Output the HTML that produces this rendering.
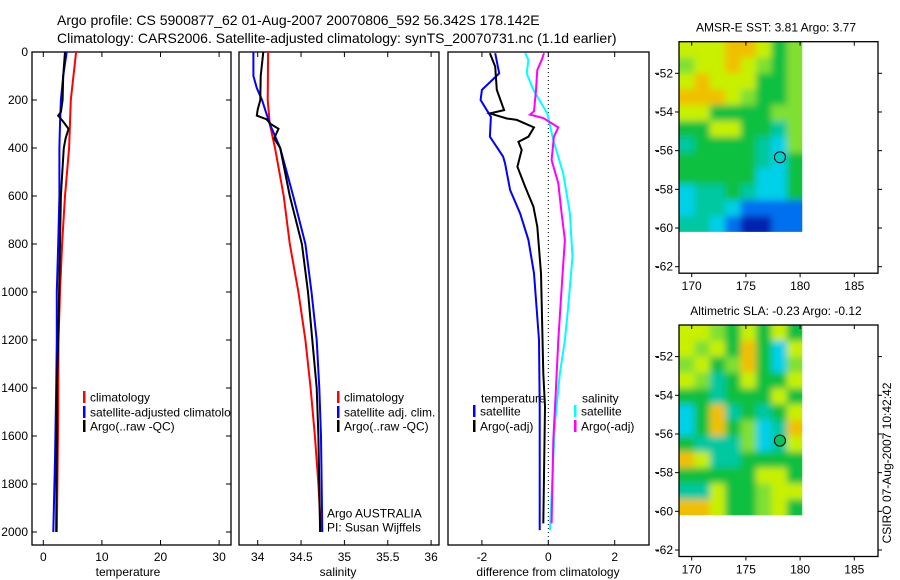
<!DOCTYPE html>
<html><head><meta charset="utf-8"><style>
body{margin:0;background:#fff;}
svg{display:block;font-family:"Liberation Sans",sans-serif;}
</style></head><body>
<svg id="fig" width="900" height="580" viewBox="0 0 900 580" xmlns="http://www.w3.org/2000/svg">
<defs>
<clipPath id="clipP1"><rect x="32" y="52" width="199" height="493"/></clipPath>
<filter id="blur" x="-5%" y="-5%" width="110%" height="110%"><feGaussianBlur stdDeviation="3.5"/></filter>
</defs>
<g id="titles">
<text x="57" y="25" font-size="14">Argo profile: CS 5900877_62 01-Aug-2007 20070806_592 56.342S 178.142E</text>
<text x="57" y="43" font-size="14">Climatology: CARS2006. Satellite-adjusted climatology: synTS_20070731.nc (1.1d earlier)</text>
</g>
</svg>
<script>
// ---- data ----
const depthTicks=[0,200,400,600,800,1000,1200,1400,1600,1800,2000];
const tempTicks=[0,10,20,30];
const salTicks=[34,34.5,35,35.5,36];
const diffTicks=[-2,0,2];
const tempClimDepth=[0,200,400,600,800,1000,1200,1500,1800,2000];
const tempClim=[5.6,4.7,4.4,3.7,3.2,2.85,2.6,2.55,2.4,2.3];
const tempSatDepth=[0,100,200,300,400,600,800,1000,1200,1400,1700,2000];
const tempSat=[4.0,3.4,3.0,2.85,2.75,2.75,2.55,2.3,2.3,2.2,2.0,1.7];
const tempArgoDepth=[0,100,200,250,265,290,320,360,400,500,600,800,1000,1200,1400,1600,2000];
const tempArgo=[3.7,3.4,3.3,3.0,2.55,3.4,4.3,3.8,3.5,3.25,3.0,2.85,2.7,2.55,2.3,2.3,2.2];
const salClimDepth=[0,200,300,400,600,800,1000,1200,1400,1600,1800,2000];
const salClim=[34.12,34.115,34.14,34.2,34.3,34.37,34.47,34.55,34.61,34.66,34.70,34.73];
const salSatDepth=[0,100,150,200,300,400,600,800,1000,1200,1400,1600,2000];
const salSat=[33.95,33.95,33.99,34.05,34.14,34.26,34.41,34.55,34.62,34.68,34.71,34.73,34.745];
const salArgoDepth=[0,100,200,240,265,280,300,320,360,400,600,800,1000,1200,1400,1600,2000];
const salArgo=[34.065,34.035,34.03,34.0,33.99,34.10,34.15,34.24,34.19,34.26,34.37,34.51,34.58,34.63,34.68,34.70,34.72];
const dTSatDepth=[5,89,158,200,270,353,436,465,575,672,783,922,1200,1478,1992];
const dTSat=[-1.6,-1.48,-2.0,-2.04,-1.73,-1.76,-1.36,-1.3,-1.15,-0.85,-0.6,-0.43,-0.28,-0.26,-0.26];
const dTArgoDepth=[5,61,158,242,256,277,283,314,353,374,408,478,561,644,728,922,1339,1478,1964];
const dTArgo=[-1.76,-1.6,-1.55,-1.33,-1.76,-1.25,-0.95,-0.43,-0.6,-0.9,-0.8,-0.93,-0.7,-0.45,-0.33,-0.22,-0.15,-0.1,-0.15];
const dSSatDepth=[5,33,89,158,256,367,506,672,853,1061,1200,1339,1547,1756,1992];
const dSSat=[-0.7,-0.6,-0.65,-0.45,-0.03,0.15,0.45,0.65,0.73,0.6,0.5,0.35,0.2,0.13,0.05];
const dSArgoDepth=[5,33,75,158,247,261,275,314,353,450,547,672,783,922,1200,1408,1617,1964];
const dSArgo=[-0.13,-0.2,-0.33,-0.37,-0.43,-0.55,-0.15,0.3,0.17,0.1,0.3,0.4,0.5,0.43,0.3,0.23,0.15,0.1];
const lonTicks=[170,175,180,185];
const latTicks=[-52,-54,-56,-58,-60,-62];
const sstGrid=["YYYOOYGL","LYYOYLGL","YOYYYGGL","OOOYLGGL","YYGGGGLL","GGYYGGTL","TGGGGTCL","GGGGGTCG","GGGGGCCG","CTTGTCCG","CTTCBBBB","TTCBDDBB"];
const slaGrid=["YYLGYGYG","YLYGOGCY","LYGLOGCL","YLTGYGGY","GGTGGGYG","CGOTGTGY","CGOGLCTO","GTTTLCTY","OYTTGGGG","GGGGGYYG","TTYGGLYY","OOYGGLYG"];
const argoLon=178.142, argoLat=-56.342;
// ---- drawing ----
const NS="http://www.w3.org/2000/svg";
const svg=document.getElementById('fig');
function el(t,a,p){const e=document.createElementNS(NS,t);for(const k in a)e.setAttribute(k,a[k]);(p||svg).appendChild(e);return e;}
const y0=52, ky=0.24;
const yD=d=>y0+d*ky;
function panel(name,x1,x2,xs,ticks,fmt,leftTicks,xlabel,lx){
  const g=el('g',{});
  
  
  const r=el('rect',{x:x1,y:52,width:x2-x1,height:493,fill:'none',stroke:'#000','stroke-width':1.3},g);
  
  
  ticks.forEach(v=>{const x=xs(v);
    el('line',{x1:x,x2:x,y1:52,y2:57,stroke:'#000'},g);el('line',{x1:x,x2:x,y1:545,y2:540,stroke:'#000'},g);
    const t=el('text',{x:x,y:561,'font-size':12,'text-anchor':'middle'},g);t.textContent=fmt(v);
    
    });
  if(leftTicks){depthTicks.forEach(d=>{const y=yD(d);
    el('line',{x1:x1,x2:x1+5,y1:y,y2:y,stroke:'#000'},g);el('line',{x1:x2,x2:x2-5,y1:y,y2:y,stroke:'#000'},g);
    const t=el('text',{x:28,y:y+4,'font-size':12,'text-anchor':'end'},g);t.textContent=d;
    
    });}
  const xl=el('text',{x:lx,y:576,'font-size':12,'text-anchor':'middle'},g);xl.textContent=xlabel;
  
  
  return g;
}
function line(g,xs,vals,depths,color,name){
  const pts=vals.map((v,i)=>xs(v).toFixed(1)+','+yD(depths[i]).toFixed(1)).join(' ');
  const p=el('polyline',{points:pts,fill:'none',stroke:color,'stroke-width':2},g);
  
  
}
function legend(g,x,y,color,label,name){
  if(color){el('rect',{x:x,y:y-6,width:2.5,height:12,fill:color},g);}
  const t=el('text',{x:x+7,y:y+4.5,'font-size':12},g);t.textContent=label;
  
  
}
// panel 1
const xT=v=>43.3+v*5.86;
const g1=panel('temperature-panel',32,231,xT,tempTicks,v=>v,true,'temperature',128);
const g1c=el('g',{'clip-path':'url(#clipP1)'},g1);
line(g1c,xT,tempClim,tempClimDepth,'#f00','temp-climatology-line');
line(g1c,xT,tempSat,tempSatDepth,'#00f','temp-satellite-line');
line(g1c,xT,tempArgo,tempArgoDepth,'#000','temp-argo-line');
legend(g1c,83,397,'#f00','climatology','legend-climatology');
legend(g1c,83,412,'#00f','satellite-adjusted climatology','legend-satellite-adjusted');
legend(g1c,83,426,'#000','Argo(..raw -QC)','legend-argo');
// panel 2
const xS=v=>257.7+(v-34)*86.7;
const g2=panel('salinity-panel',239,439,xS,salTicks,v=>v,false,'salinity',338);
line(g2,xS,salClim,salClimDepth,'#f00','sal-climatology-line');
line(g2,xS,salSat,salSatDepth,'#00f','sal-satellite-line');
line(g2,xS,salArgo,salArgoDepth,'#000','sal-argo-line');
legend(g2,337,397,'#f00','climatology','legend-climatology-2');
legend(g2,337,412,'#00f','satellite adj. clim.','legend-satellite-adj-2');
legend(g2,337,426,'#000','Argo(..raw -QC)','legend-argo-2');
legend(g2,320,513,null,'Argo AUSTRALIA','argo-australia-label');
legend(g2,320,527,null,'PI: Susan Wijffels','pi-label');
// panel 3
const xDf=v=>548.3+v*33.2;
const g3=panel('difference-panel',448,649,xDf,diffTicks,v=>v,false,'difference from climatology',548);
el('line',{x1:xDf(0),x2:xDf(0),y1:52,y2:545,stroke:'#000','stroke-dasharray':'1,3'},g3);
line(g3,xDf,dTSat,dTSatDepth,'#00f','diff-temp-satellite-line');
line(g3,xDf,dTArgo,dTArgoDepth,'#000','diff-temp-argo-line');
line(g3,xDf,dSSat,dSSatDepth,'#0ff','diff-sal-satellite-line');
line(g3,xDf,dSArgo,dSArgoDepth,'#f0f','diff-sal-argo-line');
legend(g3,474,398,null,'temperature','legend-temperature-header');
legend(g3,473,411,'#00f','satellite','legend-temp-satellite');
legend(g3,473,426,'#000','Argo(-adj)','legend-temp-argo');
legend(g3,575,398,null,'salinity','legend-salinity-header');
legend(g3,574,411,'#0ff','satellite','legend-sal-satellite');
legend(g3,574,426,'#f0f','Argo(-adj)','legend-sal-argo');
// maps
const pal={Y:'#c8f000',O:'#f0c000',L:'#80e030',G:'#10c040',T:'#00c8a0',C:'#00d0e8',B:'#0070f0',D:'#0020b0'};
let mapIdx=0;
function map(name,top,title,grid,circ){
  const g=el('g',{});
  
  
  const bot=top+231.5;
  const lonX=v=>691.7+(v-170)*10.84;
  const latY=v=>top+31.6+(-52-v)*19.34;
  const ix1=679, ix2=lonX(180.2), iy1=top, iy2=latY(-60.2);
  const cw=(ix2-ix1)/grid[0].length, ch=(iy2-iy1)/grid.length;
  mapIdx++;
  const cp=el('clipPath',{id:'mclip'+mapIdx},g);
  el('rect',{x:ix1,y:iy1,width:ix2-ix1,height:iy2-iy1},cp);
  const outer=el('g',{'clip-path':'url(#mclip'+mapIdx+')'},g);
  const img=el('g',{filter:'url(#blur)'},outer);
  
  
  grid.forEach((row,r)=>{[...row].forEach((c,k)=>{
    const w=cw+0.6+(k===row.length-1?8:0), h=ch+0.6+(r===grid.length-1?8:0);
    const x=ix1+k*cw-(k===0?8:0), y=iy1+r*ch-(r===0?8:0);
    el('rect',{x:x,y:y,width:w+(k===0?8:0),height:h+(r===0?8:0),fill:pal[c]},img);});});
  const f=el('rect',{x:679,y:top,width:199,height:bot-top,fill:'none',stroke:'#000','stroke-width':1.3},g);
  
  
  lonTicks.forEach(v=>{const x=lonX(v);
    el('line',{x1:x,x2:x,y1:top,y2:top+4,stroke:'#000'},g);el('line',{x1:x,x2:x,y1:bot,y2:bot+4,stroke:'#000'},g);
    const t=el('text',{x:x,y:bot+17,'font-size':12,'text-anchor':'middle'},g);t.textContent=v;
    
    });
  latTicks.forEach(v=>{const y=latY(v);
    el('line',{x1:675,x2:679,y1:y,y2:y,stroke:'#000'},g);el('line',{x1:878,x2:882,y1:y,y2:y,stroke:'#000'},g);
    el('line',{x1:655,x2:659,y1:y,y2:y,stroke:'#000'},g);
    const t=el('text',{x:673,y:y+4,'font-size':12,'text-anchor':'end'},g);t.textContent=v;
    
    });
  const c=el('circle',{cx:lonX(argoLon),cy:latY(argoLat),r:5.5,fill:circ,stroke:'#000','stroke-width':1},g);
  
  
  const t=el('text',{x:776,y:top-10,'font-size':12,'text-anchor':'middle'},g);t.textContent=title;
  
  
}
map('sst-map',41.7,'AMSR-E SST: 3.81  Argo: 3.77',sstGrid,'#00d0c8');
map('sla-map',325,'Altimetric SLA: -0.23  Argo: -0.12',slaGrid,'#10c060');
const ts=el('text',{x:0,y:0,'font-size':12,'text-anchor':'middle',transform:'translate(891,463) rotate(-90)'});
ts.textContent='CSIRO 07-Aug-2007 10:42:42';


</script>
</body></html>
